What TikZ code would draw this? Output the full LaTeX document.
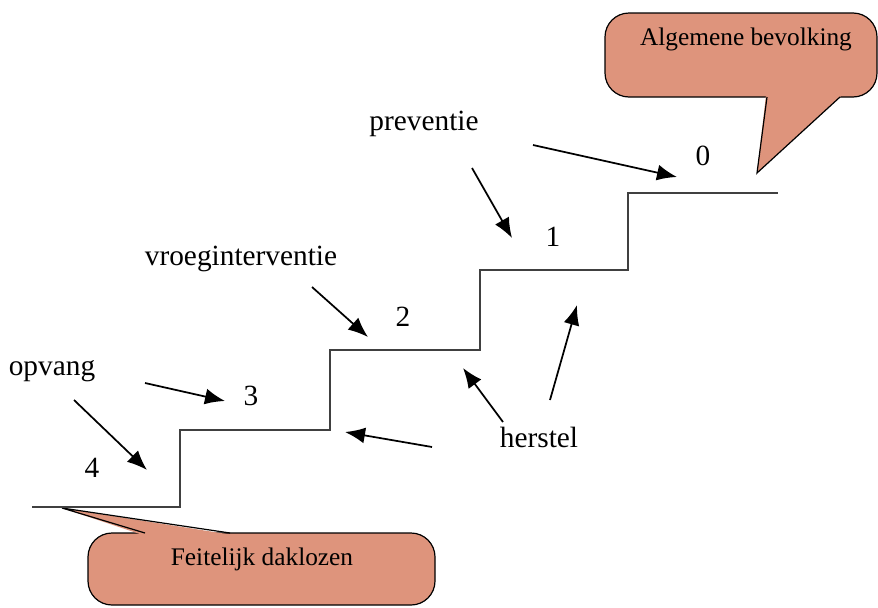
\documentclass[tikz,border=0pt]{standalone}
\usepackage{fontspec}
\setmainfont{Liberation Serif}
\usetikzlibrary{arrows.meta}
\definecolor{zalm}{RGB}{222,148,124}

\begin{document}
\begin{tikzpicture}[x=0.75pt,y=-0.75pt,
        trap/.style={draw=black!75,line width=1.5pt},
        pijl/.style={-{Latex[length=15pt,width=12pt]},line width=1.3pt},
        ballon/.style={draw=black,line width=0.9pt,fill=zalm}]
            \useasboundingbox (0,0) rectangle (878,607);
            % ballonnen
            \draw[ballon,rounded corners=18] (605,13) rectangle (877,97);
            \fill[zalm] (766,95) -- (757,173) -- (842,95) -- cycle;
            \draw[line width=0.9pt] (767,97) -- (757,173) -- (840,97);
            \draw[ballon,rounded corners=18] (88,533) rectangle (435,605);
            \fill[zalm] (143,535) -- (62,508) -- (233,535) -- cycle;
            \draw[line width=0.9pt] (145,533) -- (62,508) -- (230,533);
            % trap
            \draw[trap] (32,507) -- (180,507) -- (180,430) -- (330,430) -- (330,350)
                -- (480,350) -- (480,270) -- (628,270) -- (628,193) -- (778,193);
            \begin{scope}[every node/.style={anchor=base,inner sep=0pt,font=\fontsize{22}{26}\selectfont}]
                \node (prev) at (424,130) {preventie};
                \node (vroeg) at (241,265) {vroeginterventie};
                \node (opv) at (52,375) {opvang};
                \node (herst) at (539,447) {herstel};
                \node (n0) at (703,165) {0};
                \node (n1) at (553,246) {1};
                \node (n2) at (403,326) {2};
                \node (n3) at (251,405) {3};
                \node (n4) at (92,477) {4};
            \end{scope}
            \begin{scope}[every node/.style={anchor=base,inner sep=0pt,font=\fontsize{19}{23}\selectfont}]
                \node (alg) at (746,45) {Algemene bevolking};
                \node (feit) at (262,565) {Feitelijk daklozen};
            \end{scope}
            % pijlen
            \coordinate (p0a) at (533,145);  \coordinate (p0b) at (677,177);
            \coordinate (p1a) at (472,168);  \coordinate (p1b) at (512,238);
            \coordinate (p2a) at (312,287);  \coordinate (p2b) at (368,337);
            \coordinate (p3a) at (145,383);  \coordinate (p3b) at (225,401);
            \coordinate (p4a) at (74,400);   \coordinate (p4b) at (147,470);
            \coordinate (h1a) at (432,447);  \coordinate (h1b) at (345,432);
            \coordinate (h2a) at (503,422);  \coordinate (h2b) at (463,368);
            \coordinate (h3a) at (550,400);  \coordinate (h3b) at (577,305);
            \draw[pijl] (p0a) -- (p0b);
            \draw[pijl] (p1a) -- (p1b);
            \draw[pijl] (p2a) -- (p2b);
            \draw[pijl] (p3a) -- (p3b);
            \draw[pijl] (p4a) -- (p4b);
            \draw[pijl] (h1a) -- (h1b);
            \draw[pijl] (h2a) -- (h2b);
            \draw[pijl] (h3a) -- (h3b);
        \end{tikzpicture}
\end{document}
